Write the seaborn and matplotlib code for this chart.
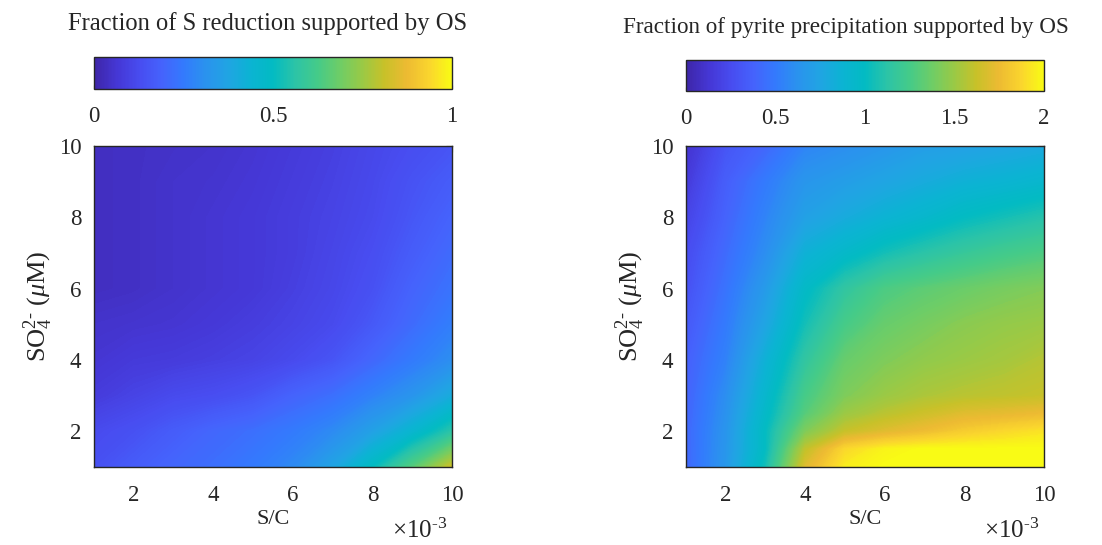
import numpy as np
import matplotlib
matplotlib.use("Agg")
import matplotlib.pyplot as plt
import seaborn as sns
from matplotlib.colors import LinearSegmentedColormap

# ---------------- data ----------------
# S/C ratio and sulfate concentration (uM)
sc_ratio = [0.001, 0.002, 0.003, 0.004, 0.005, 0.006, 0.007, 0.008, 0.009, 0.010]
so4_left = [1, 2, 3, 4, 5, 6, 7, 8, 9, 10]
so4_right = [1, 1.5, 2, 2.5, 3, 4, 5, 6, 7, 8, 9, 10]

# Fraction of S reduction supported by OS (rows: so4_left, cols: sc_ratio)
frac_sred = [
    [0.14, 0.17, 0.20, 0.22, 0.25, 0.29, 0.37, 0.50, 0.65, 0.82],
    [0.12, 0.14, 0.17, 0.20, 0.22, 0.25, 0.29, 0.36, 0.45, 0.56],
    [0.08, 0.10, 0.12, 0.13, 0.15, 0.19, 0.22, 0.27, 0.32, 0.40],
    [0.06, 0.075, 0.08, 0.09, 0.10, 0.12, 0.15, 0.20, 0.25, 0.30],
    [0.05, 0.055, 0.06, 0.07, 0.085, 0.10, 0.12, 0.16, 0.21, 0.26],
    [0.035, 0.04, 0.05, 0.06, 0.07, 0.09, 0.11, 0.14, 0.19, 0.23],
    [0.035, 0.04, 0.05, 0.06, 0.07, 0.085, 0.105, 0.13, 0.17, 0.21],
    [0.035, 0.04, 0.05, 0.06, 0.07, 0.085, 0.10, 0.12, 0.155, 0.19],
    [0.035, 0.04, 0.05, 0.055, 0.065, 0.08, 0.095, 0.115, 0.145, 0.17],
    [0.035, 0.04, 0.045, 0.05, 0.06, 0.075, 0.09, 0.11, 0.13, 0.15],
]

# Fraction of pyrite precipitation supported by OS (rows: so4_right, cols: sc_ratio)
frac_pyrite = [
    [0.40, 0.66, 1.05, 1.70, 1.95, 2.00, 2.00, 2.00, 2.00, 2.00],
    [0.40, 0.65, 1.00, 1.60, 1.88, 1.97, 2.00, 2.00, 2.00, 2.00],
    [0.40, 0.64, 1.00, 1.42, 1.62, 1.70, 1.76, 1.83, 1.88, 1.92],
    [0.39, 0.62, 0.96, 1.30, 1.50, 1.58, 1.64, 1.70, 1.72, 1.75],
    [0.38, 0.60, 0.92, 1.25, 1.42, 1.50, 1.55, 1.58, 1.60, 1.62],
    [0.36, 0.54, 0.85, 1.15, 1.35, 1.42, 1.47, 1.50, 1.53, 1.57],
    [0.32, 0.50, 0.75, 1.05, 1.25, 1.35, 1.40, 1.45, 1.48, 1.50],
    [0.28, 0.46, 0.68, 0.97, 1.15, 1.27, 1.32, 1.36, 1.40, 1.43],
    [0.25, 0.42, 0.60, 0.85, 0.95, 1.05, 1.12, 1.18, 1.23, 1.27],
    [0.20, 0.38, 0.55, 0.72, 0.80, 0.87, 0.93, 1.00, 1.05, 1.10],
    [0.15, 0.35, 0.50, 0.65, 0.70, 0.75, 0.80, 0.85, 0.88, 0.92],
    [0.10, 0.30, 0.40, 0.55, 0.60, 0.65, 0.70, 0.72, 0.75, 0.78],
]

titles = ["Fraction of S reduction supported by OS",
          "Fraction of pyrite precipitation supported by OS"]
cbar_ticks_left = [0, 0.5, 1]
cbar_ticks_right = [0, 0.5, 1, 1.5, 2]
axis_ticks = [2, 4, 6, 8, 10]

# ---------------- style ----------------
sns.set_theme(style="white")
plt.rcParams["font.family"] = ["Liberation Serif", "DejaVu Serif"]
plt.rcParams["mathtext.fontset"] = "custom"
plt.rcParams["mathtext.rm"] = "Liberation Serif"
plt.rcParams["mathtext.it"] = "Liberation Serif:italic"

# parula-like colormap
parula_anchors = [
    (0.2422, 0.1504, 0.6603),
    (0.2704, 0.2138, 0.8346),
    (0.2813, 0.2985, 0.9397),
    (0.2710, 0.3860, 0.9898),
    (0.2006, 0.4803, 0.9906),
    (0.1649, 0.5755, 0.9323),
    (0.1253, 0.6453, 0.8887),
    (0.0433, 0.7039, 0.8242),
    (0.0094, 0.7327, 0.7623),
    (0.1741, 0.7678, 0.6527),
    (0.2695, 0.7951, 0.5360),
    (0.4322, 0.8028, 0.4013),
    (0.6024, 0.7896, 0.2726),
    (0.7829, 0.7579, 0.1608),
    (0.9272, 0.7298, 0.1973),
    (0.9807, 0.8342, 0.1787),
    (0.9769, 0.9839, 0.0805),
]
parula = LinearSegmentedColormap.from_list("parula", parula_anchors, N=256)

W, H = 1102, 545
fig = plt.figure(figsize=(W / 100, H / 100), dpi=100)

def fx(px):
    return px / W

def fy(py):
    return 1 - py / H

edge = "#262626"
txt = "#262626"
fs_tick = 16.5

panels = [
    dict(ax_left=94, cb_top=57, cb_bot=89, title_x=268, title_y=24, title_fs=17.7,
         z=frac_sred, y=so4_left, vmax=1, cticks=cbar_ticks_left, title=titles[0]),
    dict(ax_left=686, cb_top=60, cb_bot=91, title_x=846, title_y=28, title_fs=16.7,
         z=frac_pyrite, y=so4_right, vmax=2, cticks=cbar_ticks_right, title=titles[1]),
]

for p in panels:
    left = p["ax_left"]
    width = 358
    ax = fig.add_axes([fx(left), fy(467), fx(width), (467 - 146) / H])
    X, Y = np.meshgrid(np.array(sc_ratio) * 1e3, np.array(p["y"]))
    Z = np.array(p["z"])
    levels = np.linspace(0, p["vmax"], 241)
    cf = ax.contourf(X, Y, Z, levels=levels, cmap=parula, vmin=0, vmax=p["vmax"],
                     antialiased=False, extend="both")
    cf.set_rasterized(True)
    ax.set_xlim(1, 10)
    ax.set_ylim(1, 10)
    ax.set_xticks(axis_ticks)
    ax.set_yticks(axis_ticks)
    ax.tick_params(direction="in", length=4, width=0.8, colors=edge, labelsize=fs_tick,
                   top=True, right=True)
    ax.tick_params(axis="x", pad=13)
    ax.tick_params(axis="y", pad=9)
    for lab in ax.get_xticklabels() + ax.get_yticklabels():
        lab.set_color(txt)
    for s in ax.spines.values():
        s.set_color(edge)
        s.set_linewidth(1.0)
        s.set_zorder(5)
    ax.set_xlabel("S/C", fontsize=16, color=txt, labelpad=3)
    ax.set_ylabel(r"SO$_4^{2\text{-}}$ ($\mu$M)", fontsize=19, color=txt)
    ax.yaxis.set_label_coords(-0.11, 0.5)
    ax.text(1.0 - 5 / width, -0.2, r"$\times$10$^{\text{-}3}$", transform=ax.transAxes,
            ha="right", va="center", fontsize=18, color=txt)

    cax = fig.add_axes([fx(left), fy(p["cb_bot"]), fx(width), (p["cb_bot"] - p["cb_top"]) / H])
    sm = matplotlib.cm.ScalarMappable(norm=matplotlib.colors.Normalize(0, p["vmax"]), cmap=parula)
    cb = fig.colorbar(sm, cax=cax, orientation="horizontal", ticks=p["cticks"])
    cb.set_ticklabels([f"{t:g}" for t in p["cticks"]])
    cax.tick_params(direction="in", length=3, width=0.8, colors=edge, labelsize=fs_tick,
                    pad=12, bottom=True, top=False)
    for lab in cax.get_xticklabels():
        lab.set_color(txt)
    cb.outline.set_edgecolor(edge)
    cb.outline.set_linewidth(1.0)

    fig.text(fx(p["title_x"]), fy(p["title_y"]), p["title"], ha="center", va="center",
             fontsize=p["title_fs"], color=txt)

fig.savefig("out.png", dpi=100)
